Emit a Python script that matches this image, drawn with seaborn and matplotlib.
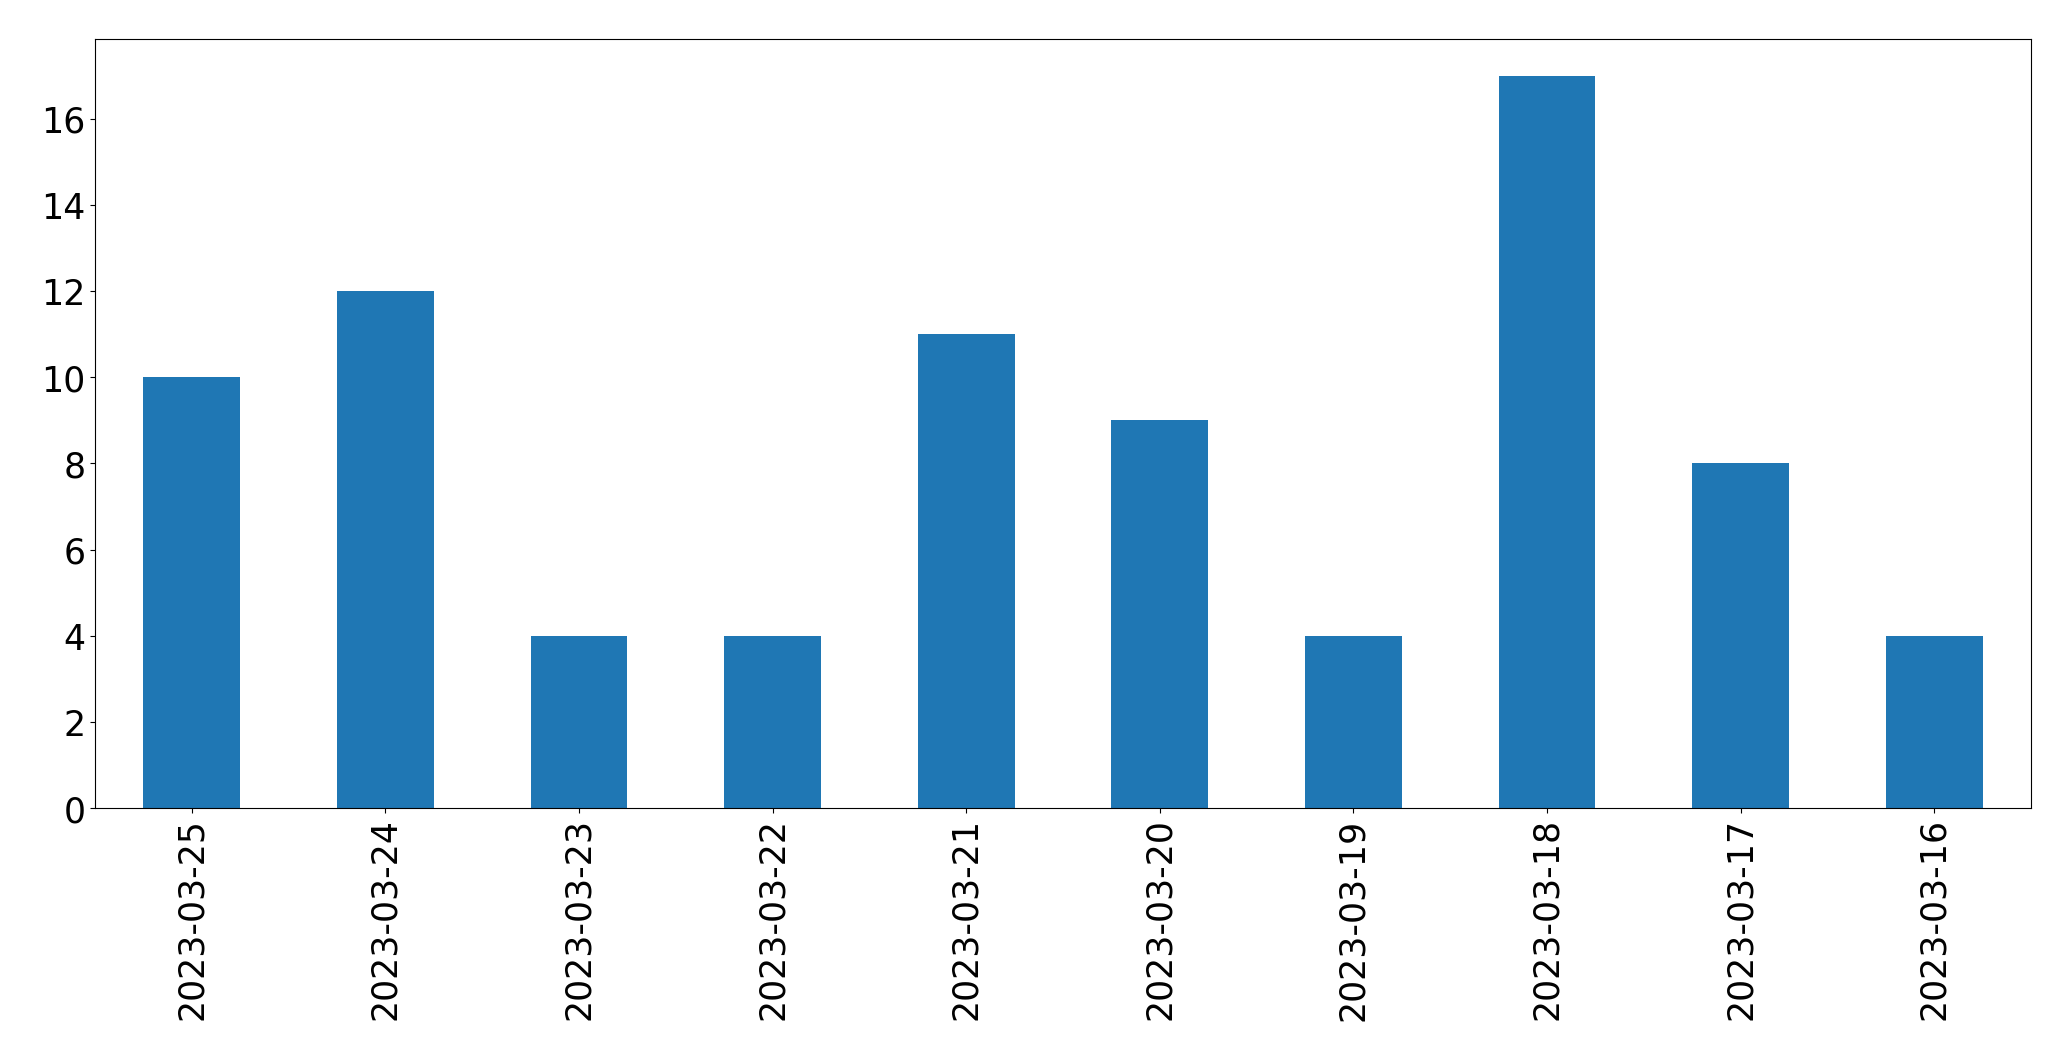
import matplotlib
matplotlib.use("Agg")
import matplotlib.pyplot as plt
import seaborn as sns
import pandas as pd

dates = ["2023-03-25", "2023-03-24", "2023-03-23", "2023-03-22", "2023-03-21",
         "2023-03-20", "2023-03-19", "2023-03-18", "2023-03-17", "2023-03-16"]
counts = [10, 12, 4, 4, 11, 9, 4, 17, 8, 4]

df = pd.DataFrame({"date": dates, "count": counts})

plt.rcdefaults()
plt.rcParams["font.family"] = ["DejaVu Sans"]

fig, ax = plt.subplots(figsize=(20.71, 10.605), dpi=100)
fig.subplots_adjust(left=0.0459, right=0.9807, top=0.9628, bottom=0.2375)

sns.barplot(data=df, x="date", y="count", order=dates, color="#1f77b4",
            saturation=1, width=0.5, linewidth=0, ax=ax)

ax.set_xlim(-0.5, len(dates) - 0.5)
ax.set_ylim(0, max(counts) * 1.05)
ax.set_xlabel("")
ax.set_ylabel("")
ax.set_yticks([0, 2, 4, 6, 8, 10, 12, 14, 16])
ax.tick_params(axis="x", labelrotation=90, labelsize=25, colors="black")
ax.tick_params(axis="y", labelsize=25, colors="black")
for s in ax.spines.values():
    s.set_visible(True)
    s.set_color("black")

fig.savefig("out.png", dpi=100)
